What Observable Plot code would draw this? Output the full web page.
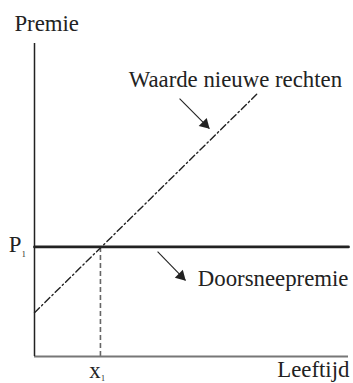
<!DOCTYPE html>
<html><head><meta charset="utf-8">
<script src="https://cdn.jsdelivr.net/npm/d3@7"></script>
<script src="https://cdn.jsdelivr.net/npm/@observablehq/plot@0.6"></script>
<style>body{margin:0;background:#fff}</style>
</head><body><div id="chart"></div>
<script>
// Schematic values (arbitrary units 0..100)
const rightsAge = [0, 71];        // Leeftijd for "Waarde nieuwe rechten"
const rightsValue = [14, 84];     // Premie for "Waarde nieuwe rechten"
const premiumAge = [0, 100];      // Leeftijd for Doorsneepremie
const premiumValue = [35, 35];    // Premie P1 (flat)
const x1Ticks = [21];
const p1Ticks = [35];
const xTickLabels = ["x"];
const yTickLabels = ["P"];
const subscriptLabels = ["1"];
const labelTexts = ["Waarde nieuwe rechten", "Doorsneepremie"];
const labelAge = [30, 52];
const labelValue = [86, 22.4];
const arrowFromAge = [46.2, 39.2];
const arrowFromValue = [82.4, 33.5];
const arrowToAge = [55.7, 48.1];
const arrowToValue = [72.8, 24.3];
const axisTitles = ["Premie", "Leeftijd"];

const ink = "#222";
const rights = rightsAge.map((a, i) => ({age: a, value: rightsValue[i]}));
const premium = premiumAge.map((a, i) => ({age: a, value: premiumValue[i]}));
const labels = labelTexts.map((t, i) => ({text: t, age: labelAge[i], value: labelValue[i]}));
const arrows = arrowFromAge.map((a, i) => ({x1: a, y1: arrowFromValue[i], x2: arrowToAge[i], y2: arrowToValue[i]}));

const chart = Plot.plot({
  width: 353, height: 383,
  marginLeft: 34, marginRight: 5, marginTop: 43, marginBottom: 27,
  style: {fontFamily: "Liberation Serif", fontSize: "22.8px", color: ink, background: "#fff", overflow: "visible"},
  x: {domain: [0, 100]},
  y: {domain: [0, 100]},
  marks: [
    // dashed guide at x1
    Plot.ruleX(x1Ticks, {y1: 0, y2: p1Ticks[0], stroke: "#666", strokeWidth: 1.6, strokeDasharray: "5,3"}),
    // axes lines
    Plot.ruleY([0], {stroke: "#777", strokeWidth: 2}),
    Plot.ruleX([0], {stroke: ink, strokeWidth: 1.5}),
    // waarde nieuwe rechten (dash-dot)
    Plot.line(rights, {x: "age", y: "value", stroke: ink, strokeWidth: 1.4, strokeDasharray: "7,3,1.5,3"}),
    // doorsneepremie
    Plot.line(premium, {x: "age", y: "value", stroke: ink, strokeWidth: 2.8}),
    // arrows
    Plot.link(arrows, {x1: "x1", y1: "y1", x2: "x2", y2: "y2", stroke: ink, strokeWidth: 1.1}),
    Plot.dot(arrows, {x: "x2", y: "y2", symbol: "triangle", r: 4.2, fill: ink, stroke: "none", rotate: 135, dx: -4.4, dy: -4.4}),
    // labels
    Plot.text(labels, {x: "age", y: "value", text: "text", textAnchor: "start", lineAnchor: "bottom", fill: ink, fontSize: 22.8}),
    Plot.text([axisTitles[0]], {x: -6.4, y: 104, text: d => d, textAnchor: "start", lineAnchor: "bottom", fill: ink, fontSize: 22.8}),
    Plot.text([axisTitles[1]], {x: 100.3, y: -6.7, text: d => d, textAnchor: "end", lineAnchor: "bottom", fill: ink, fontSize: 22.8}),
    // tick labels
    Plot.axisY({ticks: p1Ticks, tickFormat: (d, i) => yTickLabels[i], tickSize: 0, tickPadding: 13, dy: -2.5, fill: ink, fontSize: 22.8}),
    Plot.axisX({ticks: x1Ticks, tickFormat: (d, i) => xTickLabels[i], tickSize: 0, tickPadding: 5, dx: -5.5, fill: ink, fontSize: 22.8}),
    Plot.text([subscriptLabels[0]], {x: 0, y: p1Ticks[0], text: d => d, dx: -10.7, dy: 7.5, fontSize: 8, fill: ink}),
    Plot.text([subscriptLabels[0]], {x: x1Ticks[0], y: 0, text: d => d, dx: 2.5, dy: 22, fontSize: 8, fill: ink})
  ]
});
document.getElementById("chart").append(chart);
</script>
</body></html>
